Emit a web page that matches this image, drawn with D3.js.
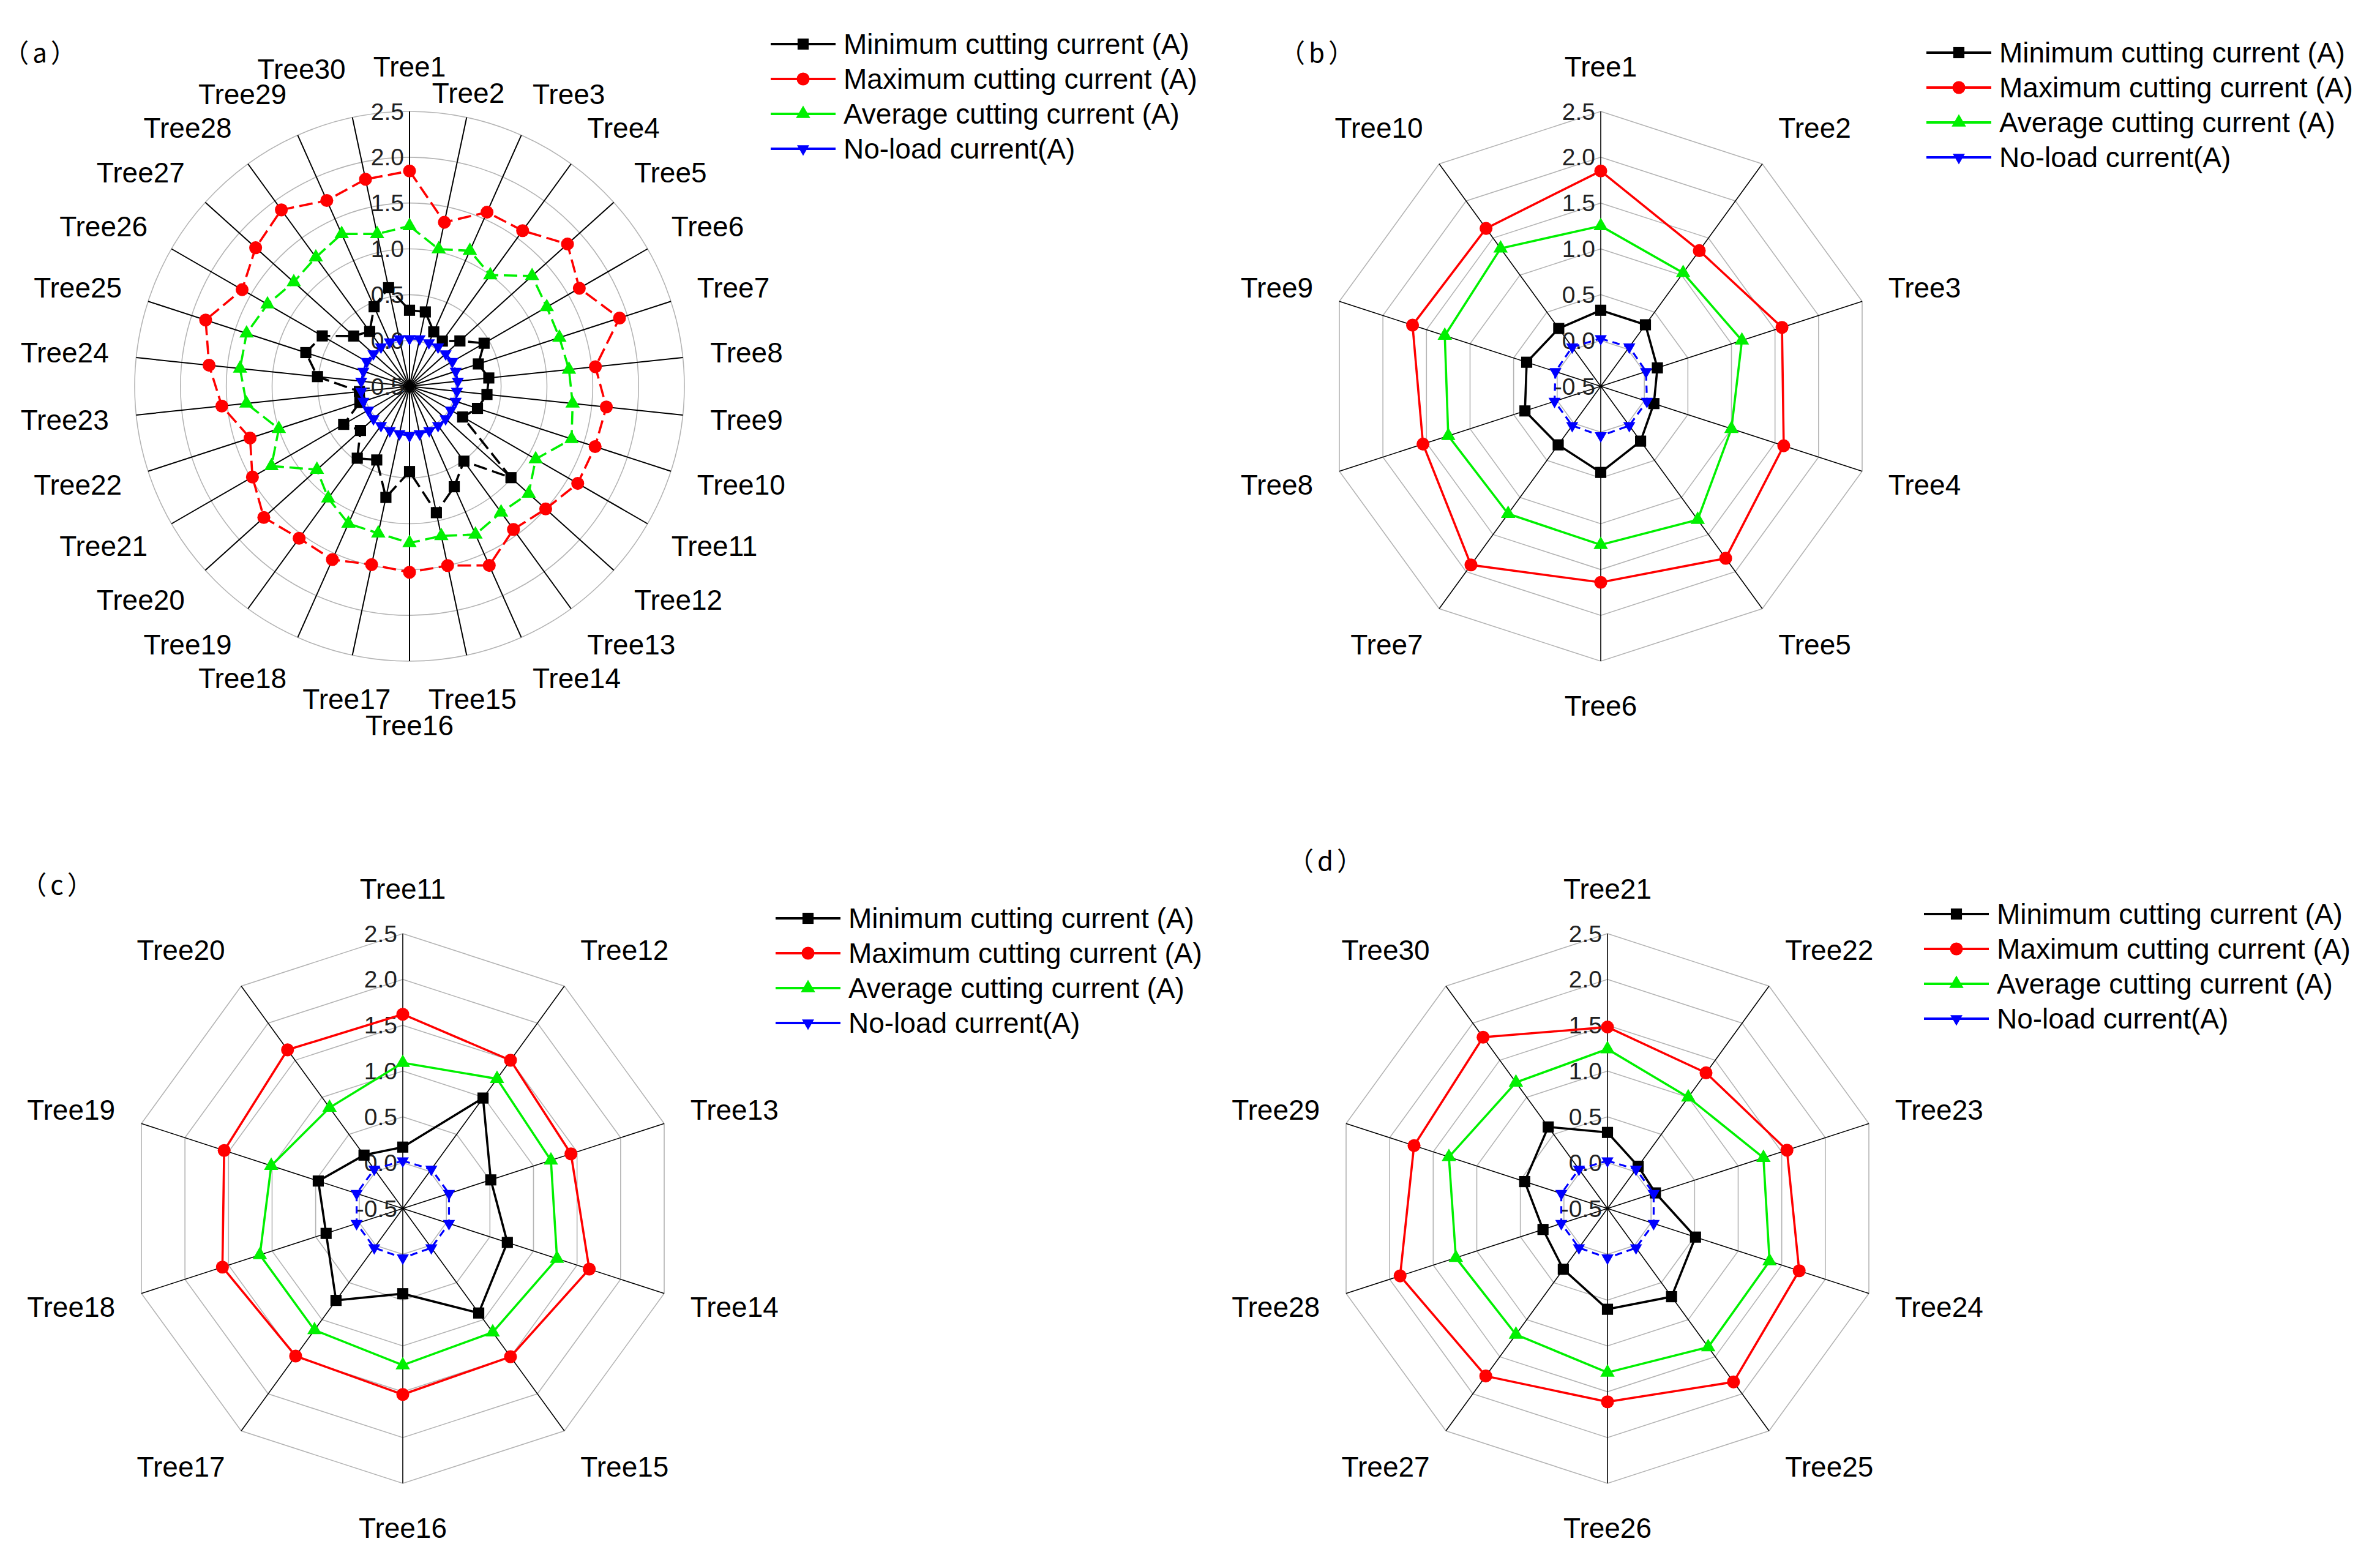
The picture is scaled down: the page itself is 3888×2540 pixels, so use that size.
<!DOCTYPE html>
<html>
<head>
<meta charset="utf-8">
<script src="https://cdn.jsdelivr.net/npm/d3@7"></script>
<style>
body { margin: 0; background: #fff; }
text { font-family: "Liberation Sans", Arial, sans-serif; fill: #000; }
.letter { font-family: "Noto Sans CJK SC", "Liberation Sans", sans-serif; letter-spacing: 6px; }
</style>
</head>
<body>
<svg id="chart" width="3888" height="2540"></svg>
<script>
var trees = ["Tree1", "Tree2", "Tree3", "Tree4", "Tree5", "Tree6", "Tree7", "Tree8", "Tree9", "Tree10",
	"Tree11", "Tree12", "Tree13", "Tree14", "Tree15", "Tree16", "Tree17", "Tree18", "Tree19", "Tree20",
	"Tree21", "Tree22", "Tree23", "Tree24", "Tree25", "Tree26", "Tree27", "Tree28", "Tree29", "Tree30"];

var minCurrent = [0.33, 0.33, 0.15, 0.11, 0.24, 0.44, 0.29, 0.37, 0.35, 0.28,
	0.17, 0.99, 0.51, 0.70, 0.91, 0.43, 0.74, 0.38, 0.47, 0.22,
	0.33, 0.07, 0.05, 0.51, 0.69, 0.60, 0.32, 0.24, 0.45, 0.60];
var maxCurrent = [1.85, 1.33, 1.58, 1.60, 1.82, 1.64, 1.91, 1.54, 1.66, 1.63,
	1.62, 1.50, 1.43, 1.64, 1.50, 1.53, 1.49, 1.57, 1.55, 1.64,
	1.48, 1.33, 1.56, 1.70, 1.84, 1.61, 1.76, 1.88, 1.72, 1.81];
var avgCurrent = [1.25, 1.03, 1.12, 1.00, 1.30, 1.23, 1.22, 1.25, 1.29, 1.36,
	1.09, 1.25, 1.20, 1.27, 1.17, 1.21, 1.14, 1.14, 1.01, 0.86,
	1.24, 1.00, 1.29, 1.36, 1.37, 1.29, 1.20, 1.24, 1.32, 1.20];
var noLoadCurrent = [0.02, 0.03, 0.02, 0.03, 0.03, 0.04, 0.03, 0.03, 0.02, 0.03,
	0.02, 0.03, 0.03, 0.03, 0.03, 0.04, 0.03, 0.03, 0.03, 0.03,
	0.02, 0.03, 0.03, 0.03, 0.03, 0.04, 0.03, 0.03, 0.03, 0.03];

var seriesNames = ["Minimum cutting current (A)", "Maximum cutting current (A)",
	"Average cutting current (A)", "No-load current(A)"];
var tickValues = [-0.5, 0, 0.5, 1, 1.5, 2, 2.5];
var tickLabels = ["-0.5", "0.0", "0.5", "1.0", "1.5", "2.0", "2.5"];
var panelLetters = ["（a）", "（b）", "（c）", "（d）"];

var svg = d3.select("#chart");
svg.append("rect").attr("width", 3888).attr("height", 2540).attr("fill", "#fff");

var R = 449;
var fs = 46;
var tickFs = 39;

var series = [
	{name: seriesNames[0], values: minCurrent, color: "#000000", symbol: d3.symbolSquare, size: 330, rot: 0},
	{name: seriesNames[1], values: maxCurrent, color: "#ff0000", symbol: d3.symbolCircle, size: 350, rot: 0},
	{name: seriesNames[2], values: avgCurrent, color: "#00f000", symbol: d3.symbolTriangle, size: 240, rot: 0},
	{name: seriesNames[3], values: noLoadCurrent, color: "#0000ff", symbol: d3.symbolTriangle, size: 170, rot: 180, dash: true}
];

// panel layout
var panels = [
	{letter: panelLetters[0], from: 0, to: 30, cx: 669, cy: 631, round: true, dashed: true, lx: 1259, ly: 72, tx: 68, ty: 83},
	{letter: panelLetters[1], from: 0, to: 10, cx: 2615, cy: 631, lx: 3147, ly: 86, tx: 2154, ty: 83},
	{letter: panelLetters[2], from: 10, to: 20, cx: 658, cy: 1974, lx: 1267, ly: 1500, tx: 96, ty: 1442},
	{letter: panelLetters[3], from: 20, to: 30, cx: 2626, cy: 1974, lx: 3143, ly: 1493, tx: 2168, ty: 1403}
];

function labelPos(a, rr, side) {
	var p = d3.pointRadial(a, rr);
	var s = Math.sin(a), c = Math.cos(a);
	var anchor = (Math.abs(s) < 0.25 && !side) ? "middle" : (s > 0 ? "start" : "end");
	return {x: p[0], y: p[1] - 28 * c, anchor: anchor};
}

function boxOf(w, pos) {
	var x0 = pos.anchor == "middle" ? pos.x - w / 2 : (pos.anchor == "start" ? pos.x : pos.x - w);
	return {x0: x0, x1: x0 + w, y0: pos.y - 0.42 * fs, y1: pos.y + 0.42 * fs};
}

function hits(b, list) {
	return list.some(function(o) {
		return b.x0 < o.x1 + 4 && b.x1 > o.x0 - 4 && b.y0 < o.y1 + 2 && b.y1 > o.y0 - 2;
	});
}

// find a spot for a category label: small radial moves first, then side alignment
function placeLabel(a, w, placed) {
	var base = R + 45;
	var passes = [{side: false, kmax: 8}, {side: true, kmax: 40}];
	for (var q = 0; q < passes.length; q++) {
		for (var k = 0; k <= passes[q].kmax; k++) {
			var tries = k == 0 ? [base] : [base + 4 * k, base - 4 * k];
			for (var j = 0; j < tries.length; j++) {
				if (tries[j] < R + 12) continue;
				var pos = labelPos(a, tries[j], passes[q].side);
				var b = boxOf(w, pos);
				if (!hits(b, placed)) return {pos: pos, box: b};
			}
		}
	}
	var pos0 = labelPos(a, base, false);
	return {pos: pos0, box: boxOf(w, pos0)};
}

function drawPanel(p) {
	var names = trees.slice(p.from, p.to);
	var n = names.length;
	var g = svg.append("g").attr("transform", "translate(" + p.cx + "," + p.cy + ")");
	var r = d3.scaleLinear().domain([-0.5, 2.5]).range([0, R]);
	var angle = d3.scaleLinear().domain([0, n]).range([0, 2 * Math.PI]);

	// grid rings
	var rings = tickValues.slice(1);
	if (p.round) {
		g.selectAll(".ring").data(rings).enter().append("circle")
			.attr("r", function(v) { return r(v); })
			.attr("fill", "none").attr("stroke", "#b4b4b4").attr("stroke-width", 1.6);
	} else {
		g.selectAll(".ring").data(rings).enter().append("path")
			.attr("d", function(v) {
				return d3.lineRadial().angle(function(d, i) { return angle(i); })
					.radius(r(v)).curve(d3.curveLinearClosed)(names);
			})
			.attr("fill", "none").attr("stroke", "#b4b4b4").attr("stroke-width", 1.6);
	}

	// spokes
	g.selectAll(".spoke").data(names).enter().append("line")
		.attr("x1", 0).attr("y1", 0)
		.attr("x2", function(d, i) { return d3.pointRadial(angle(i), R)[0]; })
		.attr("y2", function(d, i) { return d3.pointRadial(angle(i), R)[1]; })
		.attr("stroke", "#000").attr("stroke-width", p.round ? 2 : 1.6);

	// radial tick labels
	var placed = [];
	g.selectAll(".tick").data(tickValues).enter().append("text")
		.attr("x", -9).attr("y", function(v) { return -r(v); })
		.attr("text-anchor", "end").attr("dominant-baseline", "central")
		.attr("font-size", tickFs).style("fill", "#222")
		.text(function(v, i) { return tickLabels[i]; })
		.each(function(v) {
			var w = this.getComputedTextLength();
			placed.push({x0: -9 - w, x1: -9, y0: -r(v) - 0.42 * tickFs, y1: -r(v) + 0.42 * tickFs});
		});

	// series
	series.forEach(function(s) {
		var vals = s.values.slice(p.from, p.to);
		var line = d3.lineRadial()
			.angle(function(d, i) { return angle(i); })
			.radius(function(d) { return r(d); })
			.curve(d3.curveLinearClosed);
		g.append("path").attr("d", line(vals))
			.attr("fill", "none").attr("stroke", s.color)
			.attr("stroke-width", s.dash ? 3.2 : 3.6)
			.attr("stroke-dasharray", p.dashed ? "22,9" : (s.dash ? "12,8" : null));
		g.selectAll(null).data(vals).enter().append("path")
			.attr("d", d3.symbol().type(s.symbol).size(s.size))
			.attr("transform", function(d, i) {
				var pt = d3.pointRadial(angle(i), r(d));
				return "translate(" + pt[0] + "," + pt[1] + ") rotate(" + s.rot + ")";
			})
			.attr("fill", s.color);
	});

	// category labels, nudged apart when they collide
	names.forEach(function(name, i) {
		var t = g.append("text").attr("font-size", fs).attr("dominant-baseline", "central").text(name);
		var spot = placeLabel(angle(i), t.node().getComputedTextLength(), placed);
		placed.push(spot.box);
		t.attr("x", spot.pos.x).attr("y", spot.pos.y).attr("text-anchor", spot.pos.anchor);
	});

	// legend
	var lg = svg.append("g").attr("transform", "translate(" + p.lx + "," + p.ly + ")");
	series.forEach(function(s, i) {
		var row = lg.append("g").attr("transform", "translate(0," + i * 57 + ")");
		row.append("line").attr("x1", 0).attr("x2", 106).attr("y1", 0).attr("y2", 0)
			.attr("stroke", s.color).attr("stroke-width", 4);
		row.append("path").attr("d", d3.symbol().type(s.symbol).size(s.size))
			.attr("transform", "translate(53,0) rotate(" + s.rot + ")").attr("fill", s.color);
		row.append("text").attr("x", 119).attr("y", 0).attr("dominant-baseline", "central")
			.attr("font-size", fs).text(s.name);
	});

	svg.append("text").attr("class", "letter").attr("x", p.tx).attr("y", p.ty)
		.attr("text-anchor", "middle").attr("dominant-baseline", "central")
		.attr("font-size", 42).text(p.letter);
}

panels.forEach(drawPanel);
</script>
</body>
</html>
